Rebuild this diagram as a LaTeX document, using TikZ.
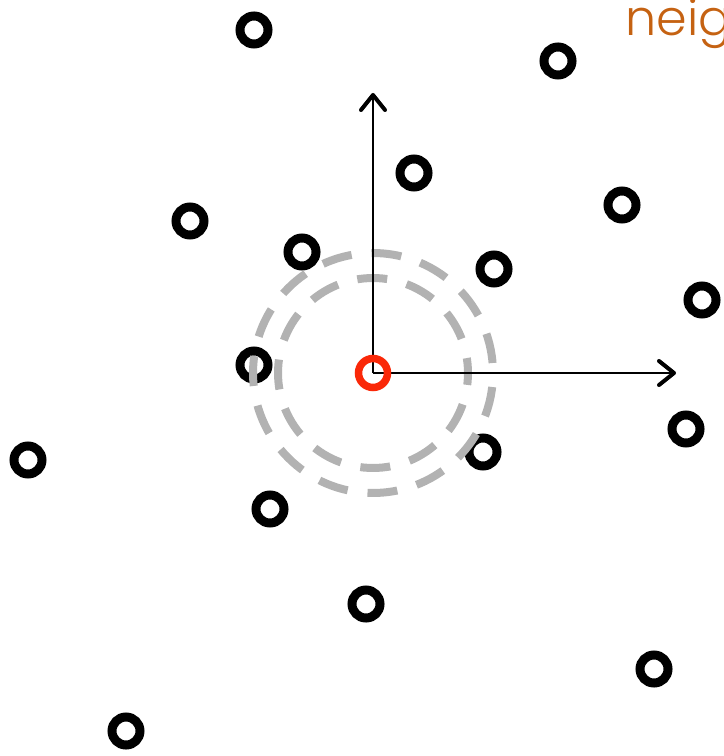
\documentclass[tikz,border=0pt]{standalone}
\usepackage{fontspec}
\usetikzlibrary{arrows.meta}
\newfontfamily\gothic{Poppins Light}
\definecolor{NbOrange}{RGB}{197,98,18}
\definecolor{NbRed}{RGB}{250,40,8}
\definecolor{NbGray}{RGB}{178,178,178}

\begin{document}
\begin{tikzpicture}[x=0.02cm, y=-0.02cm,
          sample/.style={circle, draw=black, line width=0.18cm,
                         minimum size=0.56cm, inner sep=0pt},
          query/.style={sample, draw=NbRed, line width=0.15cm,
                        minimum size=0.58cm},
          ring/.style={NbGray, line width=0.16cm,
                       dash pattern=on 0.6cm off 0.4cm},
          axis/.style={line width=0.04cm,
                       -{Straight Barb[length=0.3cm, width=0.48cm,
                         line width=0.08cm, round]}}
        ]
        \useasboundingbox (0,0) rectangle (723,756);
        \clip (0,0) rectangle (723,756);

        % Data points
        \node[sample] (p1)  at (254, 30)  {};
        \node[sample] (p2)  at (558, 61)  {};
        \node[sample] (p3)  at (414, 173) {};
        \node[sample] (p4)  at (190, 221) {};
        \node[sample] (p5)  at (622, 205) {};
        \node[sample] (p6)  at (302, 252) {};
        \node[sample] (p7)  at (494, 269) {};
        \node[sample] (p8)  at (702, 300) {};
        \node[sample] (p9)  at (254, 365) {};
        \node[sample] (p10) at (686, 429) {};
        \node[sample] (p11) at (28, 460)  {};
        \node[sample] (p12) at (483, 452) {};
        \node[sample] (p13) at (270, 509) {};
        \node[sample] (p14) at (366, 604) {};
        \node[sample] (p15) at (654, 669) {};
        \node[sample] (p16) at (126, 731) {};

        % Search radii
        \coordinate (q) at (373, 373);
        \draw[ring, dash phase=0.3cm] (q) circle (1.9cm);
        \draw[ring, dash phase=0.8cm] (q) circle (2.4cm);

        % Axes
        \coordinate (xtip) at (676, 373);
        \coordinate (ytip) at (373, 93);
        \draw[axis] (q) -- (xtip);
        \draw[axis] (q) -- (ytip);

        % Query point
        \node[query] (c) at (q) {};

        % Label
        \node[anchor=base west, inner sep=0pt, text=NbOrange,
              font=\gothic\fontsize{28pt}{30pt}\selectfont]
              (lbl) at (625, 36) {neig};
      \end{tikzpicture}
\end{document}
